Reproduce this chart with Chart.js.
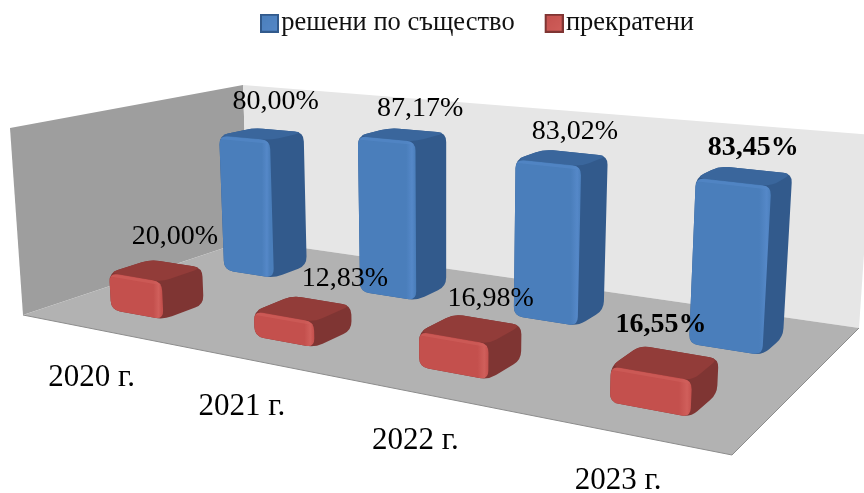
<!DOCTYPE html>
<html>
<head>
<meta charset="utf-8">
<style>
  html, body { margin: 0; padding: 0; background: #fff; }
  #wrap { width: 864px; height: 493px; }
</style>
</head>
<body>
<div id="wrap"><canvas id="chart" width="864" height="493"></canvas></div>
<script src="https://cdn.jsdelivr.net/npm/chart.js@4"></script>
<script>
const years = ["2020 г.", "2021 г.", "2022 г.", "2023 г."]
const resolved = [80.00, 87.17, 83.02, 83.45]
const stopped = [20.00, 12.83, 16.98, 16.55]
const seriesNames = ["решени по същество", "прекратени"]

const FONT = '"Liberation Serif", "Times New Roman", serif'

// corners of the 3d box on screen: front-left, front-right, back-right, back-left
const floorQuad = [[23, 315], [732, 455], [859, 328], [248, 240]]
const wallTops = { left: [10, 128], corner: [243, 85], right: [872, 135] }
// height of the 100% level at the same four corners
const cornerHeight = [187, 232, 193, 155]
// verticals lean away from this x a little
const leanCenter = 445
const leanRate = 0.000167

// bar depth on the floor, each row is one half of it
const rowDepth = [0.765, 0.265]
const barDepth = 0.17
const barDrop = 3
const barLook = [
    { front: "#4a7ebb", light: "#5588c8", side: "#325a8c", top: "#3a669c" },
    { front: "#c4504d", light: "#d05f5b", side: "#7f3533", top: "#923c39" }
]

// hand placed label offsets from the top of each bar, like in the original
const labelNudge = [
    [[14, -29], [18, -23], [13, -23], [9, -25]],
    [[19, -31], [42, -27], [20, -27], [-4, -35]]
]

function quadMap(q) {
    var dx1 = q[1][0] - q[2][0], dx2 = q[3][0] - q[2][0], sx = q[0][0] - q[1][0] + q[2][0] - q[3][0]
    var dy1 = q[1][1] - q[2][1], dy2 = q[3][1] - q[2][1], sy = q[0][1] - q[1][1] + q[2][1] - q[3][1]
    var det = dx1 * dy2 - dx2 * dy1
    var g = (sx * dy2 - dx2 * sy) / det
    var h = (dx1 * sy - sx * dy1) / det
    var a = q[1][0] - q[0][0] + g * q[1][0], b = q[3][0] - q[0][0] + h * q[3][0]
    var d = q[1][1] - q[0][1] + g * q[1][1], e = q[3][1] - q[0][1] + h * q[3][1]
    return (u, v) => {
        var w = g * u + h * v + 1
        return [(a * u + b * v + q[0][0]) / w, (d * u + e * v + q[0][1]) / w]
    }
}
const onFloor = quadMap(floorQuad)

function project(u, v, t) {
    var f = onFloor(u, v)
    var c = cornerHeight
    var full = (c[0] * (1 - u) + c[1] * u) * (1 - v) + (c[3] * (1 - u) + c[2] * u) * v
    var up = full * t
    return [f[0] + (f[0] - leanCenter) * leanRate * up, f[1] - up]
}

function poly(ctx, pts, color) {
    ctx.beginPath()
    pts.forEach((p, i) => i ? ctx.lineTo(p[0], p[1]) : ctx.moveTo(p[0], p[1]))
    ctx.closePath()
    ctx.fillStyle = color
    ctx.fill()
}

function towards(p, q, d) {
    var len = Math.hypot(q[0] - p[0], q[1] - p[1])
    var k = Math.min(d, len / 2) / len
    return [p[0] + (q[0] - p[0]) * k, p[1] + (q[1] - p[1]) * k]
}

function roundPoly(ctx, pts, r) {
    var n = pts.length
    ctx.beginPath()
    pts.forEach((p, i) => {
        var a = towards(p, pts[(i + n - 1) % n], r)
        var b = towards(p, pts[(i + 1) % n], r)
        if (i) ctx.lineTo(a[0], a[1])
        else ctx.moveTo(a[0], a[1])
        ctx.quadraticCurveTo(p[0], p[1], b[0], b[1])
    })
    ctx.closePath()
}

function drawBar(ctx, u0, u1, v0, v1, t, look) {
    var flb = project(u0, v0, 0), frb = project(u1, v0, 0), brb = project(u1, v1, 0)
    var flt = project(u0, v0, t), frt = project(u1, v0, t), brt = project(u1, v1, t), blt = project(u0, v1, t)
    var r = 9

    ctx.save()
    ctx.translate(0, barDrop)

    roundPoly(ctx, [flb, frb, brb, brt, blt, flt], r)
    ctx.fillStyle = look.side
    ctx.fill()

    roundPoly(ctx, [flt, frt, brt, blt], r)
    ctx.fillStyle = look.top
    ctx.fill()

    var grad = ctx.createLinearGradient(flt[0], 0, frt[0], 0)
    grad.addColorStop(0, look.front)
    grad.addColorStop(0.84, look.front)
    grad.addColorStop(0.94, look.light)
    grad.addColorStop(1, look.front)
    roundPoly(ctx, [flt, frt, frb, flb], r)
    ctx.fillStyle = grad
    ctx.fill()

    // soft bevel along the top of the front face
    ctx.clip()
    ctx.beginPath()
    ctx.moveTo(flt[0], flt[1] + 2)
    ctx.lineTo(frt[0], frt[1] + 2)
    ctx.strokeStyle = look.light
    ctx.lineWidth = 3
    ctx.globalAlpha = 0.6
    ctx.stroke()
    ctx.restore()
}

const scene3d = {
    id: "scene3d",
    beforeDatasetsDraw(chart) {
        var ctx = chart.ctx
        var area = chart.chartArea
        var yScale = chart.scales.y
        var xScale = chart.scales.x

        ctx.save()
        // walls and floor
        poly(ctx, [wallTops.left, wallTops.corner, floorQuad[3], floorQuad[0]], "#9e9e9e")
        poly(ctx, [wallTops.corner, wallTops.right, floorQuad[2], floorQuad[3]], "#e6e6e6")
        poly(ctx, floorQuad, "#b2b2b2")
        ctx.beginPath()
        ctx.moveTo(floorQuad[0][0], floorQuad[0][1])
        ctx.lineTo(floorQuad[1][0], floorQuad[1][1])
        ctx.lineTo(floorQuad[2][0], floorQuad[2][1])
        ctx.strokeStyle = "#8c8c8c"
        ctx.lineWidth = 1
        ctx.stroke()

        // bars come from the chart elements, back row first
        var zero = yScale.getPixelForValue(0)
        var full = yScale.getPixelForValue(100)
        chart.data.datasets.forEach((ds, di) => {
            chart.getDatasetMeta(di).data.forEach(el => {
                var u0 = (el.x - el.width / 2 - area.left) / area.width
                var u1 = (el.x + el.width / 2 - area.left) / area.width
                var t = (zero - el.y) / (zero - full)
                drawBar(ctx, u0, u1, rowDepth[di] - barDepth / 2, rowDepth[di] + barDepth / 2, t, barLook[di])
            })
        })

        // value labels
        ctx.fillStyle = "#000"
        ctx.textAlign = "center"
        ctx.textBaseline = "middle"
        chart.data.datasets.forEach((ds, di) => {
            chart.getDatasetMeta(di).data.forEach((el, i) => {
                var u = (el.x - area.left) / area.width
                var t = (zero - el.y) / (zero - full)
                var p = project(u, rowDepth[di], t)
                ctx.font = (i == 3 ? "bold " : "") + "28px " + FONT
                var text = ds.data[i].toFixed(2).replace(".", ",") + "%"
                ctx.fillText(text, p[0] + labelNudge[di][i][0], p[1] + labelNudge[di][i][1])
            })
        })

        // category labels under the front edge of the floor
        ctx.font = "31px " + FONT
        years.forEach((y, i) => {
            var u = (xScale.getPixelForValue(i) - area.left) / area.width
            var p = onFloor(u, 0)
            ctx.fillText(y, p[0] + 1, p[1] + 49)
        })
        ctx.restore()
        return false
    }
}

// legend box with the blank part on the left, chart.js centers the image on a small box
function legendSwatch(look) {
    var c = document.createElement("canvas")
    c.width = 30
    c.height = 19
    var g = c.getContext("2d")
    var grad = g.createLinearGradient(11, 0, 30, 19)
    grad.addColorStop(0, look.front)
    grad.addColorStop(1, look.light)
    g.fillStyle = grad
    g.fillRect(12, 1, 17, 17)
    g.strokeStyle = look.side
    g.lineWidth = 2
    g.strokeRect(12, 1, 17, 17)
    return c
}

new Chart(document.querySelector("canvas#chart"), {
    type: "bar",
    data: {
        labels: years,
        datasets: [
            { label: seriesNames[0], data: resolved, backgroundColor: barLook[0].front },
            { label: seriesNames[1], data: stopped, backgroundColor: barLook[1].front }
        ]
    },
    options: {
        responsive: false,
        animation: false,
        layout: { padding: { left: 90, top: -20 } },
        datasets: { bar: { grouped: false, categoryPercentage: 1, barPercentage: 0.38 } },
        scales: {
            x: { display: false },
            y: { display: false, min: 0, max: 100 }
        },
        plugins: {
            tooltip: { enabled: false },
            legend: {
                position: "top",
                labels: {
                    usePointStyle: true,
                    boxWidth: 8,
                    padding: 30,
                    color: "#111",
                    font: { family: FONT, size: 26.5 },
                    generateLabels(chart) {
                        return Chart.defaults.plugins.legend.labels.generateLabels(chart).map((item, i) => {
                            item.pointStyle = legendSwatch(barLook[i])
                            return item
                        })
                    }
                }
            }
        }
    },
    plugins: [scene3d]
});
</script>
</body>
</html>
